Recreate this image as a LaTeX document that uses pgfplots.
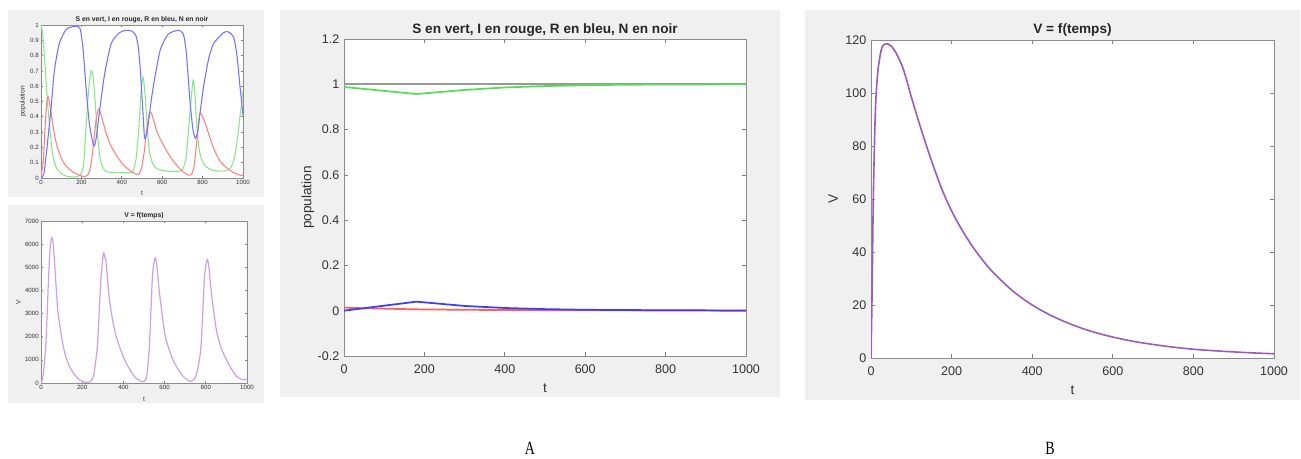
\documentclass[border=0pt]{standalone}
\usepackage{fontspec}
\setmainfont{Liberation Sans}
\newfontfamily\capfont{Liberation Serif}
\usepackage{pgfplots}
\pgfplotsset{compat=1.18}
\definecolor{mgray}{RGB}{240,240,240}
\definecolor{sgreen}{RGB}{85,222,85}
\definecolor{sred}{RGB}{255,95,95}
\definecolor{sblue}{RGB}{60,60,255}
\definecolor{lgreen}{RGB}{135,232,135}
\definecolor{lred}{RGB}{255,130,130}
\definecolor{lblue}{RGB}{115,115,255}
\definecolor{vpurple}{RGB}{155,92,185}
\definecolor{vlav}{RGB}{205,160,228}
\pgfplotsset{
  every axis title shift=0pt,
  matlab/.style={scale only axis, anchor=south west,
    axis background/.style={fill=white},
    axis line style={black!45, line width=0.6pt},
    tick style={black!50, line width=0.5pt},
    tick align=inside,
    ticklabel style={text=black!80},
    label style={text=black!80},
    title style={text=black!85, anchor=base},
    xmin=0, xmax=1000,
    xtick={0,200,400,600,800,1000},
    xticklabels={0,200,400,600,800,1000},
  },
  big/.style={matlab, major tick length=3pt,
    ticklabel style={font=\fontsize{9.4}{10}\selectfont},
    xticklabel style={yshift=-3pt},
    label style={font=\fontsize{10.2}{11}\selectfont},
    title style={font=\bfseries\fontsize{10.2}{11}\selectfont},
  },
  small/.style={matlab, major tick length=1.5pt,
    ticklabel style={font=\fontsize{4.6}{5}\selectfont, inner sep=1.5pt},
    label style={font=\fontsize{5}{6}\selectfont},
    title style={font=\bfseries\fontsize{5.1}{6}\selectfont},
  },
}
\begin{document}
\begin{tikzpicture}
\path[use as bounding box] (0,0) rectangle (975.75pt,344.25pt);
\fill[mgray] (6pt,196.5pt) rectangle (198pt,336.75pt);
\fill[mgray] (6pt,42pt) rectangle (198pt,190.5pt);
\fill[mgray] (210pt,46.5pt) rectangle (585pt,336.75pt);
\fill[mgray] (603.75pt,44.25pt) rectangle (975pt,336.75pt);

% ---------- top-left: S, I, R ----------
\begin{axis}[small, at={(30.75pt,210.75pt)}, width=151.5pt, height=114.75pt,
  ymin=0, ymax=1,
  ytick={0,0.1,0.2,0.3,0.4,0.5,0.6,0.7,0.8,0.9,1},
  yticklabels={0,0.1,0.2,0.3,0.4,0.5,0.6,0.7,0.8,0.9,1},
  title={S en vert, I en rouge, R en bleu, N en noir},
  title style={at={(axis description cs:0.5,1.024)}},
  xlabel={t}, xlabel style={at={(axis description cs:0.5,-0.098)}, anchor=center},
  ylabel={population}, ylabel style={at={(axis description cs:-0.089,0.5)}, anchor=center},
]
\addplot[lgreen, line width=0.8pt, smooth, tension=0.4] coordinates {
(0,1.0) (8,0.945) (16,0.81) (25,0.64) (33,0.48) (45,0.31) (58,0.15) (75,0.07) (91,0.04) (120,0.015) (157,0.006) (190,0.015) (202,0.04) (212,0.10) (224,0.35) (236,0.58) (248,0.70) (258,0.66) (268,0.50) (280,0.28) (292,0.13) (310,0.06) (330,0.04) (380,0.035) (440,0.035) (458,0.05) (470,0.12) (483,0.30) (495,0.55) (505,0.66) (515,0.55) (525,0.35) (537,0.17) (555,0.09) (575,0.06) (621,0.045) (687,0.045) (705,0.07) (720,0.15) (737,0.42) (753,0.64) (762,0.55) (770,0.37) (782,0.2) (795,0.12) (820,0.07) (853,0.05) (900,0.045) (936,0.06) (955,0.12) (969,0.22) (985,0.4) (1000,0.57)};
\addplot[lred, line width=0.8pt, smooth, tension=0.4] coordinates {
(0,0.01) (11,0.11) (21,0.35) (29,0.5) (35,0.53) (45,0.47) (58,0.35) (75,0.23) (92,0.16) (108,0.11) (130,0.07) (157,0.04) (190,0.018) (215,0.01) (232,0.02) (243,0.06) (252,0.13) (262,0.25) (273,0.38) (285,0.45) (298,0.41) (323,0.29) (343,0.22) (372,0.15) (405,0.09) (439,0.05) (470,0.025) (485,0.025) (497,0.06) (510,0.16) (522,0.3) (538,0.43) (550,0.41) (575,0.30) (600,0.23) (625,0.17) (650,0.12) (687,0.06) (720,0.025) (742,0.02) (757,0.07) (772,0.25) (786,0.42) (800,0.40) (820,0.33) (853,0.2) (886,0.11) (935,0.05) (970,0.025) (1000,0.015)};
\addplot[lblue, line width=0.8pt, smooth, tension=0.4] coordinates {
(0,0.0) (8,0.01) (16,0.04) (33,0.24) (50,0.46) (66,0.70) (91,0.88) (124,0.97) (160,0.99) (182,0.99) (195,0.97) (207,0.86) (215,0.73) (223,0.59) (240,0.35) (261,0.21) (273,0.26) (290,0.44) (315,0.68) (348,0.88) (389,0.95) (422,0.965) (450,0.96) (470,0.93) (482,0.85) (492,0.70) (505,0.42) (513,0.26) (525,0.30) (545,0.5) (560,0.63) (591,0.84) (630,0.94) (679,0.965) (705,0.94) (720,0.81) (737,0.51) (752,0.32) (764,0.26) (775,0.30) (790,0.45) (805,0.6) (830,0.78) (855,0.88) (904,0.95) (927,0.955) (954,0.92) (970,0.80) (985,0.6) (1000,0.41)};
\end{axis}

% ---------- bottom-left: V ----------
\begin{axis}[small, at={(30.75pt,57pt)}, width=154.5pt, height=121.5pt,
  ymin=0, ymax=7000,
  ytick={0,1000,2000,3000,4000,5000,6000,7000},
  yticklabels={0,1000,2000,3000,4000,5000,6000,7000},
  title={V = f(temps)},
  title style={at={(axis description cs:0.5,1.019)}},
  xlabel={t}, xlabel style={at={(axis description cs:0.5,-0.1)}, anchor=center},
  ylabel={V}, ylabel style={at={(axis description cs:-0.11,0.5)}, anchor=center},
]
\addplot[vlav, line width=0.9pt, smooth, tension=0.4] coordinates {
(0,0) (10,300) (24,1730) (37,4620) (45,5900) (52,6280) (58,6100) (65,5340) (81,3175) (95,2300) (105,1730) (120,1150) (138,720) (160,400) (186,143) (219,30) (240,60) (255,300) (265,900) (275,1730) (285,3500) (292,4620) (303,5600) (310,5450) (316,5200) (332,3600) (348,2700) (365,2020) (390,1350) (413,870) (440,450) (462,200) (490,70) (505,100) (515,400) (527,1730) (541,4620) (554,5410) (562,5100) (575,3900) (600,2165) (620,1500) (640,1010) (665,600) (689,300) (710,130) (729,70) (750,250) (765,800) (778,1730) (794,4620) (807,5340) (815,5000) (827,3900) (851,2300) (875,1500) (900,1010) (925,600) (948,300) (975,150) (1000,150)};
\end{axis}

% ---------- panel A ----------
\begin{axis}[big, at={(258pt,77.25pt)}, width=301.5pt, height=237.75pt,
  ymin=-0.2, ymax=1.2,
  ytick={-0.2,0,0.2,0.4,0.6,0.8,1,1.2},
  yticklabels={-0.2,0,0.2,0.4,0.6,0.8,1,1.2},
  title={S en vert, I en rouge, R en bleu, N en noir},
  title style={at={(axis description cs:0.5,1.016)}},
  xlabel={t}, xlabel style={at={(axis description cs:0.5,-0.101)}, anchor=center},
  ylabel={population}, ylabel style={at={(axis description cs:-0.09,0.5)}, anchor=center},
]
\addplot[black!40, line width=1.2pt] coordinates {(0,1) (1000,1)};
\addplot[sgreen, line width=1.3pt] coordinates {
(0,0.988) (180,0.957) (300,0.975) (400,0.986) (500,0.992) (600,0.996) (700,0.998) (800,0.999) (1000,1.0)};
\addplot[sred, line width=1.3pt] coordinates {
(0,0.013) (180,0.006) (300,0.004) (400,0.003) (600,0.002) (800,0.001) (1000,0.0)};
\addplot[sblue, line width=1.3pt] coordinates {
(0,0.0) (180,0.040) (300,0.021) (400,0.012) (500,0.007) (600,0.004) (700,0.003) (800,0.002) (1000,0.001)};
\end{axis}

% ---------- panel B ----------
\begin{axis}[big, at={(653.25pt,75.75pt)}, width=302.25pt, height=238.5pt,
  ymin=0, ymax=120,
  ytick={0,20,40,60,80,100,120},
  yticklabels={0,20,40,60,80,100,120},
  title={V = f(temps)},
  title style={at={(axis description cs:0.5,1.019)}},
  xlabel={t}, xlabel style={at={(axis description cs:0.5,-0.1)}, anchor=center},
  ylabel={V}, ylabel style={at={(axis description cs:-0.094,0.5)}, anchor=center},
]
\addplot[vpurple, line width=1.2pt, smooth, tension=0.5] coordinates {
(0,0) (2.5,23) (5.8,61) (10.7,92.5) (16.6,107.6) (25,116) (32,118.3) (40,118.6) (48,118.0) (56,116.6) (66,114) (79,109.5) (90,104) (100,98.5) (125,86) (150,74.5) (175,64) (200,55.5) (225,48.5) (250,42.5) (275,37.3) (300,32.8) (350,25.5) (400,20.0) (450,15.8) (500,12.5) (550,9.9) (600,7.9) (650,6.3) (700,5.1) (750,4.1) (800,3.3) (850,2.75) (900,2.3) (950,1.9) (1000,1.6)};
\end{axis}

\node[font=\capfont\fontsize{14}{15}\selectfont, anchor=base, xscale=0.75] at (397.5pt,3pt) {A};
\node[font=\capfont\fontsize{14}{15}\selectfont, anchor=base, xscale=0.75] at (787.5pt,3pt) {B};
\end{tikzpicture}
\end{document}
